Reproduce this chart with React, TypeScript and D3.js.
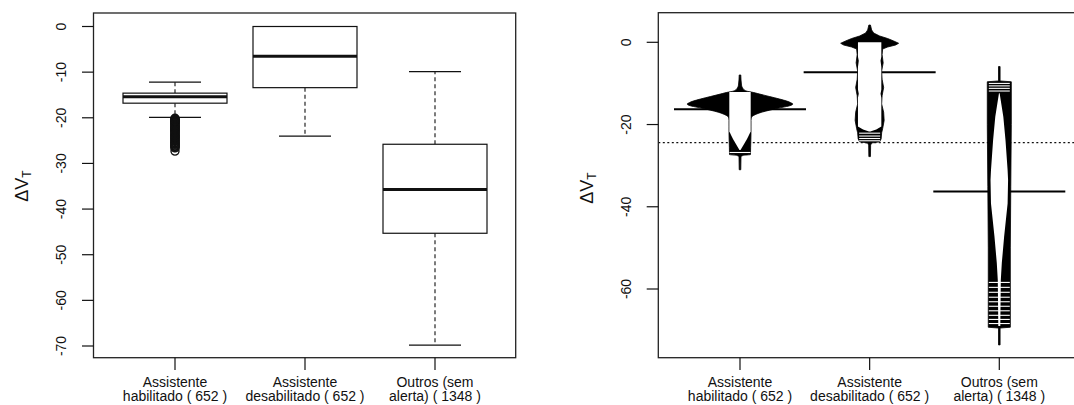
import React from "react";
import * as d3 from "d3";

// group labels (shared by both panels)
const labelLine1 = ["Assistente", "Assistente", "Outros (sem"];
const labelLine2 = ["habilitado ( 652 )", "desabilitado ( 652 )", "alerta) ( 1348 )"];

// left panel: boxplot statistics
const boxQ1 = [-16.8, -13.4, -45.3];
const boxQ3 = [-14.6, 0.0, -25.8];
const boxMedian = [-15.4, -6.5, -35.7];
const whiskerLow = [-19.9, -24.0, -69.8];
const whiskerHigh = [-12.2, 0.0, -9.9];
const outliersHab = [
  -20.1, -20.2, -20.4, -20.5, -20.6, -20.8, -20.9, -21.0, -21.1, -21.3, -21.4, -21.6,
  -21.7, -21.9, -22.0, -22.1, -22.3, -22.4, -22.6, -22.7, -22.8, -23.0, -23.1, -23.3,
  -23.5, -23.6, -23.8, -23.9, -24.1, -24.2, -24.4, -24.5, -24.7, -24.9, -25.0, -25.2,
  -25.4, -25.5, -25.7, -25.8, -26.0, -26.2, -26.3, -26.5, -26.6, -27.3,
];
const leftTicks = [0, -10, -20, -30, -40, -50, -60, -70];

// right panel: beanplot (value, relative density)
const rightTicks = [0, -20, -40, -60];
const beanMeans = [-16.3, -7.3, -36.3];
const grandMean = -24.4;

const densityHab = [
  [-7.95, 0.012], [-10.4, 0.023], [-11.4, 0.053], [-11.9, 0.106], [-12.1, 0.174],
  [-12.6, 0.3], [-13.2, 0.45], [-13.8, 0.6], [-14.3, 0.71], [-14.7, 0.77], [-15.0, 0.8],
  [-15.35, 0.77], [-15.7, 0.68], [-16.1, 0.56], [-16.5, 0.45], [-17.0, 0.33],
  [-17.6, 0.23], [-18.2, 0.175], [-19.0, 0.167], [-22.0, 0.167], [-25.5, 0.161],
  [-27.3, 0.159], [-27.5, 0.05], [-27.9, 0.015], [-31.0, 0.012],
];
const densityDes = [
  [4.2, 0.012], [3.0, 0.03], [2.26, 0.061], [1.53, 0.152], [0.92, 0.273], [0.32, 0.364],
  [-0.24, 0.439], [-0.66, 0.394], [-1.14, 0.273], [-1.63, 0.197], [-3, 0.189], [-5, 0.205],
  [-7, 0.182], [-9, 0.189], [-11, 0.212], [-13, 0.189], [-15, 0.182], [-17, 0.212],
  [-19, 0.22], [-21, 0.197], [-22, 0.182], [-23.5, 0.174], [-24.2, 0.152], [-24.5, 0.03],
  [-25, 0.015], [-27.8, 0.012],
];
const densityOut = [
  [-5.9, 0.012], [-9.4, 0.012], [-9.6, 0.182], [-20, 0.182], [-35, 0.174], [-50, 0.167],
  [-60, 0.167], [-69.3, 0.167], [-69.5, 0.012], [-73.6, 0.012],
];
const densities = [densityHab, densityDes, densityOut];

// white beanlines: dense part as profile, sparse values as single lines
const linesHab = [[-12.1, 0.162], [-21.7, 0.162], [-23.5, 0.106], [-25.0, 0.053], [-26.2, 0.008]];
const linesDes = [
  [0.0, 0.177], [-3.5, 0.177], [-4.5, 0.165], [-6, 0.177], [-11.5, 0.177], [-12.5, 0.165],
  [-13.5, 0.177], [-20.5, 0.177], [-21.2, 0.1], [-21.7, 0.01],
];
const linesOut = [
  [-12.4, 0.005], [-18.1, 0.061], [-23.8, 0.094], [-31.1, 0.126], [-33.5, 0.133],
  [-39.2, 0.126], [-47.3, 0.073], [-53.7, 0.038], [-57.8, 0.023], [-69.0, 0.015],
];
const beanLines = [linesHab, linesDes, linesOut];
const stripesHab = [-26.8];
const stripesDes = [-22.1, -22.8, -23.4, -23.95];
const stripesOut = [
  -10.0, -10.6, -11.2, -11.85, -58.4, -59.6, -60.8, -62.0, -63.1, -64.2, -65.3, -66.4,
  -67.4, -68.4,
];
const stripes = [stripesHab, stripesDes, stripesOut];
const stripeWidth = 0.159;

const font = "'Liberation Sans', Arial, Helvetica, sans-serif";

export default function App() {
  const groups = [0, 1, 2];
  const xL = d3.scalePoint<number>().domain(groups).range([175, 435]);
  const yL = d3.scaleLinear().domain([0, -70]).range([26.5, 346]);
  const xR = d3.scalePoint<number>().domain(groups).range([740, 999.3]);
  const yR = d3.scaleLinear().domain([0, -60]).range([42.3, 289]);
  const wR = d3.scaleLinear().domain([0, 1]).range([0, 66]);
  const boxHalf = 52;

  const beanArea = (cx: number, smooth: boolean) =>
    d3
      .area<number[]>()
      .y((d) => yR(d[0]))
      .x0((d) => cx - wR(d[1]))
      .x1((d) => cx + wR(d[1]))
      .curve(smooth ? d3.curveMonotoneY : d3.curveLinear);

  const catLabels = (x: d3.ScalePoint<number>) =>
    groups.map((g) => (
      <g key={"lab" + g}>
        <line x1={x(g)} x2={x(g)} y1={357.7} y2={370} stroke="#111" strokeWidth={1.2} />
        <text x={x(g)} y={386.5} textAnchor="middle">{labelLine1[g]}</text>
        <text x={x(g)} y={400.5} textAnchor="middle">{labelLine2[g]}</text>
      </g>
    ));

  return (
    <svg
      width={1074}
      height={405}
      style={{ position: "absolute", left: 0, top: 0, background: "#fff" }}
      fontFamily={font}
      fontSize={14}
      fill="#111"
    >
      <rect x={0} y={0} width={1074} height={405} fill="#fff" />

      {/* ---------- left: boxplot ---------- */}
      <g>
        {groups.map((g) => {
          const cx = xL(g)!;
          return (
            <g key={"box" + g} stroke="#111" fill="none">
              <line x1={cx} x2={cx} y1={yL(boxQ3[g])} y2={yL(whiskerHigh[g])} strokeDasharray="4,3" strokeWidth={1.1} />
              <line x1={cx} x2={cx} y1={yL(boxQ1[g])} y2={yL(whiskerLow[g])} strokeDasharray="4,3" strokeWidth={1.1} />
              <line x1={cx - boxHalf / 2} x2={cx + boxHalf / 2} y1={yL(whiskerHigh[g])} y2={yL(whiskerHigh[g])} strokeWidth={1.2} />
              <line x1={cx - boxHalf / 2} x2={cx + boxHalf / 2} y1={yL(whiskerLow[g])} y2={yL(whiskerLow[g])} strokeWidth={1.2} />
              <rect
                x={cx - boxHalf}
                y={yL(boxQ3[g])}
                width={boxHalf * 2}
                height={yL(boxQ1[g]) - yL(boxQ3[g])}
                fill="#fff"
                strokeWidth={1.2}
              />
              <line x1={cx - boxHalf} x2={cx + boxHalf} y1={yL(boxMedian[g])} y2={yL(boxMedian[g])} strokeWidth={3} />
            </g>
          );
        })}
        {outliersHab.map((v, i) => (
          <circle key={"o" + i} cx={xL(0)} cy={yL(v)} r={4} fill="none" stroke="#111" strokeWidth={1.4} />
        ))}
        <rect x={93.5} y={13} width={422.2} height={344.7} fill="none" stroke="#222" strokeWidth={1.3} />
        {leftTicks.map((t) => (
          <g key={"lt" + t}>
            <line x1={82} x2={93.5} y1={yL(t)} y2={yL(t)} stroke="#111" strokeWidth={1.2} />
            <text transform={`translate(66,${yL(t)}) rotate(-90)`} textAnchor="middle">{t}</text>
          </g>
        ))}
        <text transform="translate(27.5,186) rotate(-90)" textAnchor="middle" fontSize={18}>
          ΔV<tspan fontSize={12} dy={3}>T</tspan>
        </text>
        {catLabels(xL)}
      </g>

      {/* ---------- right: beanplot ---------- */}
      <g>
        <line x1={658.3} x2={1080} y1={yR(grandMean)} y2={yR(grandMean)} stroke="#111" strokeWidth={1.1} strokeDasharray="2,2.5" />
        {groups.map((g) => {
          const cx = xR(g)!;
          return (
            <g key={"bean" + g}>
              <path d={beanArea(cx, g === 0)(densities[g] as number[][]) || ""} fill="#000" stroke="#000" strokeWidth={0.8} />
              <line x1={cx - wR(1)} x2={cx + wR(1)} y1={yR(beanMeans[g])} y2={yR(beanMeans[g])} stroke="#000" strokeWidth={2} />
              <path d={beanArea(cx, false)(beanLines[g] as number[][]) || ""} fill="#fff" />
              {stripes[g].map((v, i) => (
                <line
                  key={"s" + i}
                  x1={cx - wR(stripeWidth)}
                  x2={cx + wR(stripeWidth)}
                  y1={yR(v)}
                  y2={yR(v)}
                  stroke="#fff"
                  strokeWidth={1.1}
                />
              ))}
            </g>
          );
        })}
        <rect x={658.3} y={12.7} width={430} height={345} fill="none" stroke="#222" strokeWidth={1.3} />
        {rightTicks.map((t) => (
          <g key={"rt" + t}>
            <line x1={646.7} x2={658.3} y1={yR(t)} y2={yR(t)} stroke="#111" strokeWidth={1.2} />
            <text transform={`translate(631,${yR(t)}) rotate(-90)`} textAnchor="middle">{t}</text>
          </g>
        ))}
        <text transform="translate(593,188) rotate(-90)" textAnchor="middle" fontSize={18}>
          ΔV<tspan fontSize={12} dy={3}>T</tspan>
        </text>
        {catLabels(xR)}
      </g>
    </svg>
  );
}
